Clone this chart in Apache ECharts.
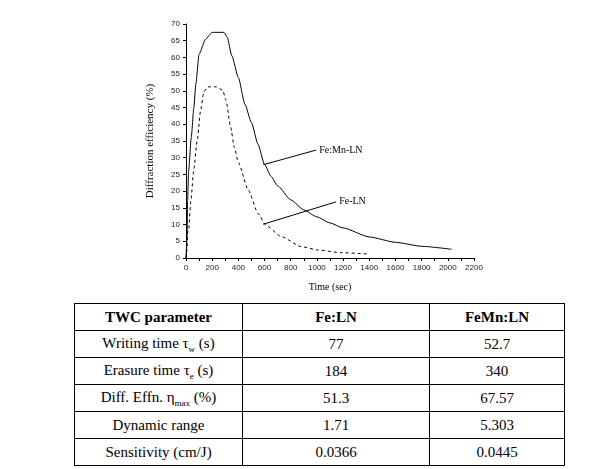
<!DOCTYPE html>
<html>
<head>
    <meta charset="utf-8">
    <title>Diffraction efficiency</title>
    <script src="https://cdn.jsdelivr.net/npm/echarts@6/dist/echarts.min.js"></script>
	<style>
		body{ margin:0; background:#fff; }
		#main{
			position:absolute;
			left:0; top:0;
			width:589px;
			height:300px;
		}
		#tbl{
			position:absolute;
			left:74px; top:303px;
			border-collapse:collapse;
			font-family:"Liberation Serif","Times New Roman",serif;
			font-size:15px;
			color:#000;
		}
		#tbl td{
			border:1px solid #000;
			height:26px;
			padding:0;
			text-align:center;
		}
		#tbl sub{ font-size:9px; }
	</style>
</head>
<body>
    <div id="main"></div>
	<table id="tbl"></table>

    <script type="text/javascript">
        // Fe:Mn-LN (solid)
        var timeMn = [0, 8, 12, 20, 40, 60, 75, 100, 150, 200, 290, 315, 350, 400, 450, 500, 550, 600, 650, 700, 800, 900, 1000, 1100, 1200, 1400, 1600, 1800, 2030];
        var effMn  = [0, 6, 17, 26, 36, 45, 52, 61, 65.5, 67.5, 67.5, 66, 60.5, 54, 46, 40.5, 34, 28, 24.4, 21.6, 17.4, 14.4, 12.3, 10.5, 9, 6.3, 4.7, 3.5, 2.6];
        // Fe-LN (dashed)
        var timeFe = [0, 8, 12, 20, 38, 59, 86, 112, 137, 165, 233, 280, 306, 340, 370, 400, 476, 551, 607, 728, 880, 1007, 1184, 1386];
        var effFe  = [0, 2.5, 7.5, 8.5, 17.4, 26.3, 35.3, 44.3, 49.7, 51.2, 51.2, 50.2, 47.2, 39.3, 33, 28.5, 20.3, 13.3, 9.9, 6.4, 3.4, 2.4, 1.6, 1.2];

        // annotation arrows: label point -> curve point
        var labelNames = ['Fe:Mn-LN', 'Fe-LN'];
        var labelFrom = [[995, 32.3], [1147, 16.8]];
        var labelTo   = [[590, 27.9], [590, 10.1]];

        // table
        var tableHead = ['TWC parameter', 'Fe:LN', 'FeMn:LN'];
        var paramNames = ['Writing time τ<sub>w</sub> (s)', 'Erasure time τ<sub>e</sub> (s)', 'Diff. Effn. η<sub>max</sub> (%)', 'Dynamic range', 'Sensitivity (cm/J)'];
        var feLN   = ['77', '184', '51.3', '1.71', '0.0366'];
        var feMnLN = ['52.7', '340', '67.57', '5.303', '0.0445'];

        function pairs(xs, ys) {
            return xs.map(function (x, i) { return [x, ys[i]]; });
        }

        function arrow(i) {
            return {
                symbol: ['none', 'triangle'],
                symbolSize: [0, 5],
                silent: true,
                animation: false,
                lineStyle: { color: '#000', type: 'solid', width: 1 },
                label: { show: false },
                data: [[{ coord: labelFrom[i] }, { coord: labelTo[i] }]]
            };
        }

        function tag(i) {
            return {
                symbol: 'circle',
                symbolSize: 0,
                silent: true,
                label: {
                    show: true,
                    position: 'right',
                    distance: 3,
                    formatter: labelNames[i],
                    color: '#000',
                    fontFamily: 'Liberation Serif',
                    fontSize: 10
                },
                data: [{ coord: labelFrom[i] }]
            };
        }

        var axisFont = { fontFamily: 'Liberation Sans', fontSize: 8, color: '#222' };

        var myChart = echarts.init(document.getElementById('main'));
        myChart.setOption({
            animation: false,
            grid: { left: 186, right: 115, top: 24, bottom: 42 },
            xAxis: {
                type: 'value',
                min: 0, max: 2200, interval: 200,
                name: 'Time (sec)',
                nameLocation: 'middle',
                nameGap: 24,
                nameTextStyle: { fontFamily: 'Liberation Serif', fontSize: 10, color: '#000' },
                axisLine: { lineStyle: { color: '#000' } },
                axisTick: { length: 3, lineStyle: { color: '#000' } },
                minorTick: { show: true, splitNumber: 2, length: 3, lineStyle: { color: '#000' } },
                axisLabel: Object.assign({ margin: 6, formatter: function (v) { return String(v); } }, axisFont),
                splitLine: { show: false }
            },
            yAxis: {
                type: 'value',
                min: 0, max: 70, interval: 5,
                name: 'Diffraction efficiency (%)',
                nameLocation: 'middle',
                nameGap: 30,
                nameRotate: 90,
                nameTextStyle: { fontFamily: 'Liberation Serif', fontSize: 11, color: '#000', padding: [0, 0, 0, 0] },
                axisLine: { show: true, lineStyle: { color: '#000' } },
                axisTick: { show: true, length: 3, lineStyle: { color: '#000' } },
                axisLabel: Object.assign({ margin: 6 }, axisFont),
                splitLine: { show: false }
            },
            series: [
                {
                    name: 'Fe:Mn-LN',
                    type: 'line',
                    showSymbol: false,
                    smooth: 0.2,
                    smoothMonotone: 'x',
                    data: pairs(timeMn, effMn),
                    lineStyle: { color: '#000', width: 1 },
                    markLine: arrow(0),
                    markPoint: tag(0)
                },
                {
                    name: 'Fe-LN',
                    type: 'line',
                    showSymbol: false,
                    smooth: 0.2,
                    smoothMonotone: 'x',
                    data: pairs(timeFe, effFe),
                    lineStyle: { color: '#000', width: 1, type: [3, 3] },
                    markLine: arrow(1),
                    markPoint: tag(1)
                }
            ]
        });

        // table
        var html = '<tr>';
        var widths = [167, 186, 134];
        tableHead.forEach(function (h, i) {
            html += '<td style="width:' + widths[i] + 'px;font-weight:bold">' + h + '</td>';
        });
        html += '</tr>';
        paramNames.forEach(function (p, i) {
            html += '<tr><td>' + p + '</td><td>' + feLN[i] + '</td><td>' + feMnLN[i] + '</td></tr>';
        });
        document.getElementById('tbl').innerHTML = html;
    </script>
</body>
</html>
